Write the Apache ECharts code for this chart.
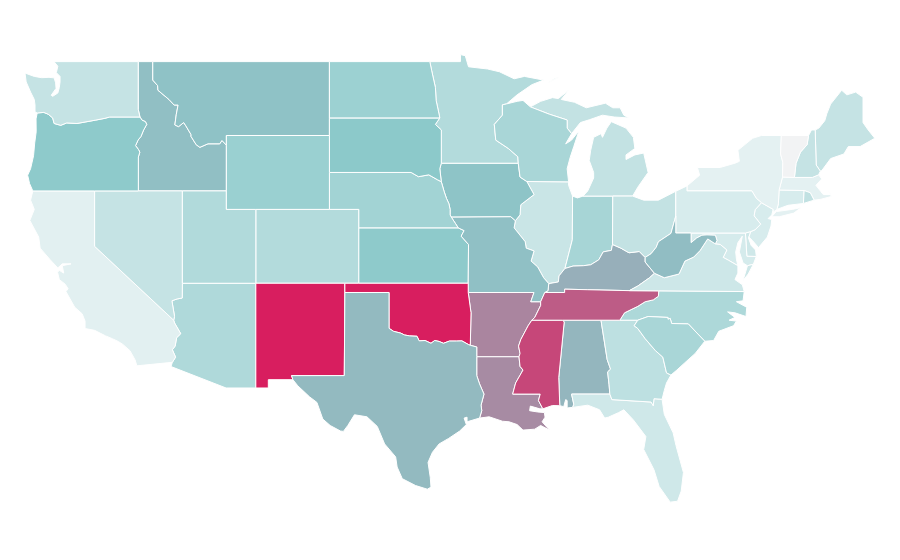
<!DOCTYPE html>
<html>
<head>
<meta charset="utf-8">
<title>US states</title>
<script src="https://cdn.jsdelivr.net/npm/echarts@6/dist/echarts.min.js"></script>
<style>
  html, body { margin: 0; background: #fff; }
  #chart { width: 900px; height: 560px; }
</style>
</head>
<body>
<div id="chart"></div>
<script>
const stateNames = [
  'Alabama', 'Arizona', 'Arkansas', 'California', 'Colorado', 'Connecticut', 'Delaware',
  'Florida', 'Georgia', 'Idaho', 'Illinois', 'Indiana', 'Iowa', 'Kansas', 'Kentucky',
  'Louisiana', 'Maine', 'Maryland', 'Massachusetts', 'Michigan', 'Minnesota', 'Mississippi',
  'Missouri', 'Montana', 'Nebraska', 'Nevada', 'New Hampshire', 'New Jersey', 'New Mexico',
  'New York', 'North Carolina', 'North Dakota', 'Ohio', 'Oklahoma', 'Oregon', 'Pennsylvania',
  'Rhode Island', 'South Carolina', 'South Dakota', 'Tennessee', 'Texas', 'Utah', 'Vermont',
  'Virginia', 'Washington', 'West Virginia', 'Wisconsin', 'Wyoming',
]
const stateValues = [
  55.5, 33, 70, 8, 31, 13, 17,
  17, 26, 53, 20, 37, 51.5, 49, 57.5,
  68, 22, 14, 7, 23, 31, 88,
  52.5, 52, 39, 22, 22, 13, 100,
  7, 34, 42, 23, 100, 49, 13,
  24, 36, 50, 82, 54.5, 32, 0,
  18, 22, 53.5, 36, 43,
]
const scaleColors = ['#f2f8f9', '#8cc9ca', '#d81e5f']
const lowestColor = '#f2f3f4'

// shared borders in lon/lat, so neighbouring states meet exactly
const seg = {
  wa_top: [[-122.76, 49], [-117.04, 49]],
  id_top: [[-117.04, 49], [-116.05, 49]],
  mt_top: [[-116.05, 49], [-104.05, 49]],
  nd_top: [[-104.05, 49], [-97.23, 49]],
  wa_coast: [[-122.76, 49], [-122.5, 48.75], [-122.6, 48.4], [-122.35, 48.2], [-122.35, 47.9], [-122.4, 47.6], [-122.5, 47.3], [-122.85, 47.12], [-122.95, 47.18], [-122.62, 47.55], [-122.65, 47.85], [-122.75, 48.12], [-123.1, 48.15], [-123.6, 48.13], [-124.1, 48.2], [-124.73, 48.38], [-124.65, 47.9], [-124.35, 47.35], [-124.1, 46.95], [-124.05, 46.65], [-124.05, 46.27], [-123.9, 46.22]],
  wa_or: [[-123.9, 46.22], [-123.45, 46.25], [-123.15, 46.15], [-122.85, 45.95], [-122.75, 45.65], [-122.3, 45.55], [-121.9, 45.68], [-121.2, 45.65], [-120.65, 45.73], [-119.95, 45.83], [-119.3, 45.93], [-118.98, 46], [-116.92, 46]],
  wa_id: [[-117.04, 49], [-117.04, 46.42], [-116.92, 46]],
  or_coast: [[-123.9, 46.22], [-123.98, 45.9], [-123.97, 45.2], [-124.07, 44.6], [-124.15, 43.9], [-124.35, 43.2], [-124.55, 42.85], [-124.42, 42.4], [-124.2, 42]],
  or_id: [[-116.92, 46], [-116.78, 45.83], [-116.55, 45.75], [-116.46, 45.6], [-116.67, 45.3], [-116.85, 44.95], [-117.05, 44.75], [-117.22, 44.45], [-117.03, 44.25], [-116.93, 44.1], [-117.03, 43.83], [-117.03, 42]],
  or_ca: [[-124.2, 42], [-120, 42]],
  or_nv: [[-120, 42], [-117.03, 42]],
  id_nv: [[-117.03, 42], [-114.04, 42]],
  id_ut: [[-114.04, 42], [-111.05, 42]],
  id_mt: [[-116.05, 49], [-116.05, 48], [-115.72, 47.7], [-115.7, 47.45], [-114.95, 46.95], [-114.6, 46.65], [-114.33, 46.65], [-114.45, 46.15], [-114.55, 45.57], [-114.3, 45.48], [-113.95, 45.7], [-113.8, 45.52], [-113.45, 45.05], [-113.45, 44.95], [-113.1, 44.5], [-112.85, 44.36], [-112.3, 44.55], [-111.5, 44.55], [-111.35, 44.73], [-111.05, 44.48]],
  id_wy: [[-111.05, 44.48], [-111.05, 42]],
  mt_wy: [[-111.05, 44.48], [-111.05, 45], [-104.05, 45]],
  mt_nd: [[-104.05, 49], [-104.05, 45.94]],
  mt_sd: [[-104.05, 45.94], [-104.05, 45]],
  wy_sd: [[-104.05, 45], [-104.05, 43]],
  wy_ne: [[-104.05, 43], [-104.05, 41]],
  wy_ut: [[-111.05, 42], [-111.05, 41], [-109.05, 41]],
  wy_co: [[-109.05, 41], [-104.05, 41]],
  ne_co: [[-104.05, 41], [-102.05, 41], [-102.05, 40]],
  ne_ks: [[-102.05, 40], [-95.3, 40]],
  co_ks: [[-102.05, 40], [-102.05, 37]],
  co_ok: [[-102.05, 37], [-103, 37]],
  co_nm: [[-103, 37], [-109.05, 37]],
  ks_ok: [[-102.05, 37], [-94.62, 37]],
  ut_co: [[-109.05, 41], [-109.05, 37]],
  ut_az: [[-109.05, 37], [-114.04, 37]],
  ut_nv: [[-114.04, 42], [-114.04, 37]],
  az_nm: [[-109.05, 37], [-109.05, 31.33]],
  nm_ok: [[-103, 37], [-103, 36.5]],
  nm_tx: [[-103, 36.5], [-103.04, 32], [-106.62, 32], [-106.53, 31.78]],
  nm_mex: [[-106.53, 31.78], [-108.2, 31.78], [-108.2, 31.33], [-109.05, 31.33]],
  az_mex: [[-109.05, 31.33], [-111.07, 31.33], [-114.81, 32.49], [-114.72, 32.72]],
  ca_nv: [[-120, 42], [-120, 39], [-114.63, 35]],
  nv_az: [[-114.63, 35], [-114.57, 35.2], [-114.75, 36.05], [-114.4, 36.15], [-114.05, 36.2], [-114.04, 37]],
  ca_az: [[-114.63, 35], [-114.57, 34.85], [-114.15, 34.27], [-114.43, 34.05], [-114.53, 33.6], [-114.72, 33.4], [-114.5, 33], [-114.72, 32.72]],
  ca_mex: [[-114.72, 32.72], [-117.13, 32.53]],
  ca_coast: [[-124.2, 42], [-124.35, 41.5], [-124.1, 41], [-124.4, 40.4], [-123.8, 39.5], [-123.7, 38.9], [-123.05, 38.3], [-122.5, 37.83], [-122.2, 38.05], [-121.6, 38.05], [-122.2, 37.95], [-122.1, 37.55], [-122.4, 37.7], [-122.52, 37.6], [-122.4, 37.2], [-122, 36.95], [-121.8, 36.7], [-121.95, 36.55], [-121.35, 35.7], [-120.85, 35.35], [-120.65, 34.95], [-120.65, 34.55], [-120, 34.45], [-119.25, 34.15], [-118.8, 34], [-118.4, 33.85], [-118.1, 33.7], [-117.6, 33.35], [-117.25, 32.85], [-117.13, 32.53]],
  tx_coast: [[-93.85, 29.7], [-94.7, 29.5], [-94.7, 29.75], [-94.9, 29.7], [-94.75, 29.35], [-95.2, 29], [-95.95, 28.6], [-96.6, 28.3], [-97.05, 27.85], [-97.35, 27.3], [-97.2, 26.5], [-97.15, 25.96], [-97.4, 25.85], [-98.2, 26.05], [-99.1, 26.42], [-99.45, 27.05], [-99.55, 27.6], [-100.3, 28.3], [-100.8, 29.25], [-101.5, 29.77], [-102.35, 29.88], [-102.8, 29.3], [-103.1, 28.98], [-103.3, 29], [-104, 29.3], [-104.5, 29.65], [-104.9, 30.55], [-105.4, 30.85], [-106.2, 31.45], [-106.53, 31.78]],
  ok_tx_pan: [[-100, 34.56], [-100, 36.5], [-103, 36.5]],
  ok_tx_red: [[-100, 34.56], [-99.7, 34.4], [-99.2, 34.3], [-98.95, 34.2], [-98.6, 34.15], [-98.1, 34.13], [-97.95, 33.88], [-97.55, 33.9], [-97.15, 33.75], [-96.9, 33.9], [-96.6, 33.85], [-96.3, 33.75], [-95.9, 33.87], [-95.4, 33.87], [-95.05, 33.88], [-94.6, 33.68], [-94.48, 33.64]],
  ar_ok: [[-94.62, 36.5], [-94.43, 35.4], [-94.48, 33.64]],
  ar_tx: [[-94.48, 33.64], [-94.04, 33.55], [-94.04, 33.02]],
  ar_la: [[-94.04, 33.02], [-91.17, 33.02]],
  la_tx: [[-94.04, 33.02], [-94.04, 32], [-93.85, 31.55], [-93.55, 31], [-93.75, 30.4], [-93.7, 30.1], [-93.85, 29.7]],
  ms_la: [[-91.17, 33.02], [-91.1, 32.5], [-90.9, 32.3], [-91.4, 31.6], [-91.6, 31], [-89.73, 31], [-89.85, 30.65], [-89.55, 30.2]],
  la_coast: [[-89.55, 30.2], [-89.75, 30.2], [-90.4, 30.35], [-90.45, 30.1], [-89.9, 30.03], [-89.45, 30], [-89.4, 29.75], [-89.6, 29.5], [-89.1, 29.05], [-89.7, 29.3], [-90.1, 29.1], [-90.9, 29.05], [-91.3, 29.35], [-91.85, 29.5], [-92.3, 29.53], [-93.2, 29.77], [-93.85, 29.7]],
  ms_coast: [[-89.55, 30.2], [-88.9, 30.38], [-88.4, 30.37]],
  ms_tn: [[-90.3, 35], [-88.2, 35]],
  ms_ar: [[-90.3, 35], [-90.55, 34.7], [-91.05, 33.95], [-91.2, 33.6], [-91.1, 33.2], [-91.17, 33.02]],
  tn_ar: [[-89.7, 36], [-89.7, 35.8], [-90.1, 35.15], [-90.3, 35]],
  mo_ar: [[-89.7, 36], [-90.37, 36], [-90.15, 36.5], [-94.62, 36.5]],
  mo_ok: [[-94.62, 36.5], [-94.62, 37]],
  ks_mo: [[-94.62, 37], [-94.6, 39.1], [-95.1, 39.55], [-94.9, 39.85], [-95.3, 40]],
  ne_mo: [[-95.3, 40], [-95.5, 40.25], [-95.77, 40.58]],
  ia_mo: [[-95.77, 40.58], [-91.73, 40.6], [-91.42, 40.38]],
  ia_ne: [[-96.45, 42.5], [-96.25, 41.95], [-96.1, 41.6], [-95.93, 41.3], [-95.85, 41], [-95.85, 40.7], [-95.77, 40.58]],
  ne_sd: [[-104.05, 43], [-98.5, 43], [-98, 42.77], [-97.3, 42.87], [-96.7, 42.6], [-96.45, 42.5]],
  ia_sd: [[-96.45, 43.5], [-96.55, 43.2], [-96.45, 42.5]],
  nd_sd: [[-104.05, 45.94], [-96.56, 45.94]],
  nd_mn: [[-97.23, 49], [-97.1, 48.5], [-96.85, 47.6], [-96.8, 46.9], [-96.56, 46], [-96.56, 45.94]],
  mn_sd: [[-96.56, 45.94], [-96.85, 45.6], [-96.45, 45.3], [-96.45, 43.5]],
  ia_mn: [[-96.45, 43.5], [-91.22, 43.5]],
  mn_wi: [[-92.02, 46.71], [-92.3, 46.66], [-92.3, 46.1], [-92.85, 45.6], [-92.75, 44.75], [-91.9, 44.3], [-91.25, 43.85], [-91.22, 43.5]],
  mn_lake: [[-92.02, 46.71], [-91.3, 47.2], [-90.3, 47.75], [-89.5, 48]],
  mn_top: [[-89.5, 48], [-90.8, 48.2], [-91.5, 48.07], [-92.5, 48.45], [-93.3, 48.6], [-94.6, 48.72], [-94.82, 49.32], [-95.15, 49.38], [-95.15, 49], [-97.23, 49]],
  ia_wi: [[-91.22, 43.5], [-91.1, 42.75], [-90.64, 42.51]],
  ia_il: [[-90.64, 42.51], [-90.15, 41.8], [-91.05, 41.25], [-91.1, 40.7], [-91.42, 40.38]],
  il_mo: [[-91.42, 40.38], [-91.5, 40], [-90.75, 39.25], [-90.68, 38.9], [-90.15, 38.75], [-90.35, 38.2], [-89.9, 37.88], [-89.5, 37.3], [-89.15, 36.98]],
  ky_mo: [[-89.15, 36.98], [-89.2, 36.6], [-89.42, 36.5]],
  tn_mo: [[-89.42, 36.5], [-89.7, 36]],
  il_ky: [[-88.05, 37.8], [-88.45, 37.4], [-88.5, 37.07], [-89.15, 36.98]],
  il_in: [[-88.05, 37.8], [-87.55, 39.35], [-87.53, 41.72]],
  il_lake: [[-87.53, 41.72], [-87.8, 42.3], [-87.8, 42.49]],
  il_wi: [[-87.8, 42.49], [-90.64, 42.51]],
  in_lake: [[-86.82, 41.72], [-87.2, 41.62], [-87.53, 41.72]],
  in_mi: [[-84.8, 41.72], [-86.82, 41.72]],
  in_oh: [[-84.82, 39.1], [-84.8, 41.72]],
  in_ky: [[-84.82, 39.1], [-84.9, 38.78], [-85.45, 38.7], [-85.75, 38.27], [-86.3, 38], [-86.8, 37.95], [-87.5, 37.93], [-88.05, 37.8]],
  ky_oh: [[-82.6, 38.4], [-83, 38.72], [-83.7, 38.65], [-84.25, 38.9], [-84.82, 39.1]],
  ky_wv: [[-81.97, 37.54], [-82.6, 38.15], [-82.6, 38.4]],
  va_ky: [[-83.68, 36.6], [-83.1, 36.85], [-82.3, 37.3], [-81.97, 37.54]],
  tn_ky: [[-83.68, 36.6], [-86.5, 36.65], [-88.07, 36.68], [-88.07, 36.5], [-89.42, 36.5]],
  va_tn: [[-81.68, 36.59], [-83.68, 36.6]],
  va_nc: [[-75.87, 36.55], [-81.68, 36.59]],
  nc_tn: [[-81.68, 36.59], [-81.7, 36.3], [-82.05, 36.1], [-82.6, 36], [-83.1, 35.75], [-84, 35.4], [-84.32, 35]],
  ga_tn: [[-85.6, 35], [-84.32, 35]],
  al_tn: [[-88.2, 35], [-85.6, 35]],
  ga_nc: [[-84.32, 35], [-83.1, 35]],
  sc_nc: [[-83.1, 35], [-82.4, 35.2], [-81.05, 35.15], [-81.05, 35.05], [-80.9, 35.1], [-80.8, 34.82], [-79.67, 34.8], [-78.55, 33.86]],
  nc_coast: [[-78.55, 33.86], [-77.95, 33.9], [-77.6, 34.4], [-76.6, 34.7], [-76.4, 34.95], [-76.9, 35], [-76.5, 35.15], [-77, 35.45], [-76.5, 35.4], [-75.75, 35.2], [-75.7, 35.7], [-76.4, 36], [-75.95, 36.05], [-75.87, 36.55]],
  sc_coast: [[-78.55, 33.86], [-79.2, 33.2], [-79.9, 32.7], [-80.45, 32.3], [-80.85, 32.03]],
  ga_sc: [[-83.1, 35], [-83.35, 34.7], [-83.1, 34.55], [-82.6, 34], [-81.9, 33.35], [-81.4, 33], [-81.15, 32.15], [-80.85, 32.03]],
  ga_coast: [[-80.85, 32.03], [-81.15, 31.6], [-81.3, 31.2], [-81.45, 30.72]],
  ga_fl: [[-81.45, 30.72], [-82, 30.75], [-82.05, 30.37], [-82.2, 30.57], [-84.86, 30.7], [-85, 31]],
  al_ga: [[-85, 31], [-85.05, 31.5], [-85.15, 32.2], [-84.95, 32.35], [-85.18, 32.87], [-85.6, 35]],
  al_fl: [[-87.52, 30.28], [-87.45, 30.45], [-87.6, 31], [-85, 31]],
  al_coast: [[-88.4, 30.37], [-88.13, 30.32], [-88, 30.7], [-87.9, 30.65], [-87.9, 30.25], [-87.52, 30.28]],
  al_ms: [[-88.2, 35], [-88.1, 34.9], [-88.47, 31.9], [-88.4, 30.37]],
  fl_coast: [[-81.45, 30.72], [-81.3, 29.9], [-80.7, 28.9], [-80.5, 28.2], [-80, 26.75], [-80.15, 25.75], [-80.4, 25.2], [-80.9, 25.15], [-81.65, 26], [-82, 26.9], [-82.7, 28], [-82.55, 28.7], [-83.4, 29.6], [-84.05, 30.15], [-84.4, 30], [-85.1, 29.75], [-85.35, 29.7], [-85.7, 30.15], [-86.5, 30.4], [-87.52, 30.28]],
  wi_lake: [[-87.8, 42.49], [-87.9, 43.2], [-87.7, 43.8], [-87.45, 44.4], [-87.1, 45.25], [-87.6, 44.75], [-88, 44.55], [-87.6, 45.1]],
  wi_mi: [[-87.6, 45.1], [-87.9, 45.4], [-87.9, 45.84], [-89.1, 46.15], [-90.4, 46.55]],
  wi_sup: [[-90.4, 46.55], [-90.9, 46.9], [-91.3, 46.85], [-92.02, 46.71]],
  mi_up: [[-90.4, 46.55], [-89.7, 46.85], [-88.9, 47.05], [-88.5, 47], [-87.8, 47.45], [-88.3, 46.95], [-87.4, 46.8], [-86.6, 46.5], [-85.3, 46.75], [-84.8, 46.5], [-84.3, 46.5], [-84.05, 46.1], [-83.7, 45.95], [-84.7, 46], [-85.5, 46.1], [-86.4, 45.85], [-87, 45.7], [-87.6, 45.1]],
  mi_isle: [[-89.2, 47.85], [-88.45, 48.15], [-88.75, 48.08], [-89.2, 47.85]],
  mi_lp: [[-83.45, 41.72], [-83.1, 42.2], [-82.4, 43], [-82.7, 44.05], [-83.3, 43.95], [-83.9, 43.7], [-83.9, 43.95], [-83.3, 44.3], [-83.4, 44.9], [-83.9, 45.4], [-84.9, 45.75], [-85.2, 45.4], [-85.5, 44.9], [-85.6, 45.1], [-86.1, 44.9], [-86.3, 44.2], [-86.4, 43.65], [-86.1, 43], [-86.1, 42.7], [-86.5, 42], [-86.82, 41.72]],
  oh_mi: [[-84.8, 41.72], [-83.45, 41.72]],
  oh_lake: [[-83.45, 41.72], [-82.7, 41.5], [-81.7, 41.5], [-80.52, 41.98]],
  oh_pa: [[-80.52, 41.98], [-80.52, 40.64]],
  oh_wv: [[-80.52, 40.64], [-80.85, 39.7], [-81.7, 39.25], [-81.85, 38.95], [-82.2, 38.6], [-82.6, 38.4]],
  pa_wv: [[-80.52, 40.64], [-80.52, 39.72]],
  pa_wv_top: [[-80.52, 39.72], [-79.48, 39.72]],
  md_pa: [[-79.48, 39.72], [-75.79, 39.72]],
  pa_de: [[-75.79, 39.72], [-75.42, 39.8]],
  pa_lake: [[-80.52, 41.98], [-79.76, 42.27]],
  pa_ny: [[-79.76, 42.27], [-79.76, 42], [-75.35, 42], [-75.05, 41.6], [-74.7, 41.36]],
  pa_nj: [[-74.7, 41.36], [-75.13, 40.98], [-75.2, 40.65], [-74.75, 40.2], [-75.13, 39.9], [-75.42, 39.8]],
  nj_coast: [[-75.42, 39.8], [-75.55, 39.5], [-75.3, 39.3], [-74.9, 38.93], [-74.3, 39.5], [-74.05, 40.1], [-74, 40.45], [-74.25, 40.5], [-74, 40.7], [-73.9, 41]],
  nj_ny: [[-73.9, 41], [-74.7, 41.36]],
  de_coast: [[-75.42, 39.8], [-75.58, 39.45], [-75.4, 39.05], [-75.1, 38.8], [-75.05, 38.45]],
  md_de: [[-75.79, 39.72], [-75.69, 38.46], [-75.05, 38.45]],
  md_coast: [[-75.05, 38.45], [-75.25, 38.03]],
  va_md_shore: [[-75.25, 38.03], [-75.65, 37.95]],
  va_shore: [[-75.25, 38.03], [-75.6, 37.5], [-75.95, 37.15], [-75.65, 37.95]],
  md_bay: [[-75.65, 37.95], [-75.95, 38.1], [-76.2, 38.7], [-76, 39.55], [-76.3, 39.2], [-76.45, 38.7], [-76.4, 38.3], [-76.3, 37.95]],
  va_md: [[-77.83, 39.13], [-77.5, 39.1], [-77.05, 38.8], [-77.3, 38.4], [-76.95, 38.25], [-76.3, 37.95]],
  va_coast: [[-76.3, 37.95], [-76.3, 37.55], [-76.5, 37.2], [-76, 36.92], [-75.87, 36.55]],
  va_wv: [[-81.97, 37.54], [-81.3, 37.3], [-80.3, 37.5], [-79.9, 38.2], [-79.3, 38.42], [-78.87, 38.77], [-78.35, 39.4], [-77.83, 39.13]],
  md_wv: [[-79.48, 39.72], [-79.48, 39.2], [-79.1, 39.45], [-78.75, 39.6], [-78.4, 39.62], [-77.83, 39.6], [-77.72, 39.32], [-77.83, 39.13]],
  ny_lake: [[-79.76, 42.27], [-78.9, 42.85], [-79.05, 43.27], [-77.5, 43.27], [-76.5, 43.5], [-76.2, 43.6], [-76.3, 44.2], [-75.3, 44.85], [-74.7, 45], [-73.35, 45]],
  ny_vt: [[-73.35, 45], [-73.4, 44], [-73.25, 43.55], [-73.27, 42.75]],
  ma_ny: [[-73.27, 42.75], [-73.5, 42.05]],
  ct_ny: [[-73.5, 42.05], [-73.55, 41.3], [-73.65, 41]],
  ny_nyc: [[-73.65, 41], [-73.9, 40.85], [-73.9, 41]],
  ny_li: [[-74, 40.6], [-73.7, 40.88], [-72.6, 41], [-72, 41.1], [-72.5, 40.8], [-73.5, 40.6], [-74, 40.6]],
  vt_top: [[-73.35, 45], [-71.5, 45]],
  vt_nh: [[-71.5, 45], [-71.6, 44.5], [-72.05, 44.1], [-72.35, 43.5], [-72.46, 42.73]],
  vt_ma: [[-72.46, 42.73], [-73.27, 42.75]],
  nh_ma: [[-70.82, 42.87], [-71.25, 42.73], [-72.46, 42.73]],
  nh_top: [[-71.5, 45], [-71.3, 45.3], [-71.05, 45.3]],
  nh_me: [[-71.05, 45.3], [-70.98, 43.4], [-70.7, 43.07]],
  nh_coast: [[-70.7, 43.07], [-70.82, 42.87]],
  me_coast: [[-71.05, 45.3], [-70.8, 45.4], [-70.4, 45.8], [-70.25, 46.2], [-70, 46.7], [-69.25, 47.45], [-68.9, 47.2], [-68.3, 47.35], [-67.8, 47.07], [-67.8, 45.7], [-67.45, 45.3], [-67, 44.85], [-68, 44.4], [-68.8, 44.4], [-69.1, 44], [-70, 43.75], [-70.6, 43.1], [-70.7, 43.07]],
  ma_coast: [[-70.82, 42.87], [-70.6, 42.65], [-71, 42.3], [-70.65, 41.95], [-70.5, 41.8], [-70, 41.8], [-70.2, 42.07], [-69.95, 41.7], [-70.65, 41.55], [-71.12, 41.5]],
  ma_ri: [[-71.12, 41.5], [-71.38, 41.9], [-71.8, 42.02]],
  ct_ma: [[-71.8, 42.02], [-73.5, 42.05]],
  ct_ri: [[-71.8, 42.02], [-71.85, 41.32]],
  ri_coast: [[-71.85, 41.32], [-71.12, 41.5]],
  ct_coast: [[-71.85, 41.32], [-72.9, 41.22], [-73.65, 41]],
}

// each state lists the borders that go round it, one list per polygon
const stateBorders = {
  'Alabama': [['al_ms', 'al_coast', 'al_fl', 'al_ga', 'al_tn']],
  'Arizona': [['ut_az', 'az_nm', 'az_mex', 'ca_az', 'nv_az']],
  'Arkansas': [['mo_ar', 'ar_ok', 'ar_tx', 'ar_la', 'ms_ar', 'tn_ar']],
  'California': [['or_ca', 'ca_nv', 'ca_az', 'ca_mex', 'ca_coast']],
  'Colorado': [['wy_co', 'ne_co', 'co_ks', 'co_ok', 'co_nm', 'ut_co']],
  'Connecticut': [['ct_ma', 'ct_ri', 'ct_coast', 'ct_ny']],
  'Delaware': [['pa_de', 'de_coast', 'md_de']],
  'Florida': [['al_fl', 'ga_fl', 'fl_coast']],
  'Georgia': [['ga_tn', 'ga_nc', 'ga_sc', 'ga_coast', 'ga_fl', 'al_ga']],
  'Idaho': [['id_top', 'id_mt', 'id_wy', 'id_ut', 'id_nv', 'or_id', 'wa_id']],
  'Illinois': [['il_lake', 'il_wi', 'ia_il', 'il_mo', 'il_ky', 'il_in']],
  'Indiana': [['in_mi', 'in_lake', 'il_in', 'in_ky', 'in_oh']],
  'Iowa': [['ia_mn', 'ia_wi', 'ia_il', 'ia_mo', 'ia_ne', 'ia_sd']],
  'Kansas': [['ne_ks', 'ks_mo', 'ks_ok', 'co_ks']],
  'Kentucky': [['ky_oh', 'in_ky', 'il_ky', 'ky_mo', 'tn_ky', 'va_ky', 'ky_wv']],
  'Louisiana': [['ar_la', 'ms_la', 'la_coast', 'la_tx']],
  'Maine': [['me_coast', 'nh_me']],
  'Maryland': [['md_pa', 'md_de', 'md_coast', 'va_md_shore', 'md_bay', 'va_md', 'md_wv']],
  'Massachusetts': [['vt_ma', 'nh_ma', 'ma_coast', 'ma_ri', 'ct_ma', 'ma_ny']],
  'Michigan': [['in_mi', 'oh_mi', 'mi_lp'], ['wi_mi', 'mi_up'], ['mi_isle']],
  'Minnesota': [['nd_mn', 'mn_sd', 'ia_mn', 'mn_wi', 'mn_lake', 'mn_top']],
  'Mississippi': [['ms_tn', 'ms_ar', 'ms_la', 'ms_coast', 'al_ms']],
  'Missouri': [['ia_mo', 'il_mo', 'ky_mo', 'tn_mo', 'mo_ar', 'mo_ok', 'ks_mo', 'ne_mo']],
  'Montana': [['mt_top', 'mt_nd', 'mt_sd', 'mt_wy', 'id_mt']],
  'Nebraska': [['ne_sd', 'ia_ne', 'ne_mo', 'ne_ks', 'ne_co', 'wy_ne']],
  'Nevada': [['or_nv', 'id_nv', 'ut_nv', 'nv_az', 'ca_nv']],
  'New Hampshire': [['nh_top', 'nh_me', 'nh_coast', 'nh_ma', 'vt_nh']],
  'New Jersey': [['pa_nj', 'nj_coast', 'nj_ny']],
  'New Mexico': [['co_nm', 'nm_ok', 'nm_tx', 'nm_mex', 'az_nm']],
  'New York': [['pa_ny', 'nj_ny', 'ny_nyc', 'ct_ny', 'ma_ny', 'ny_vt', 'ny_lake'], ['ny_li']],
  'North Carolina': [['va_nc', 'nc_tn', 'ga_nc', 'sc_nc', 'nc_coast']],
  'North Dakota': [['nd_top', 'nd_mn', 'nd_sd', 'mt_nd']],
  'Ohio': [['in_oh', 'oh_mi', 'oh_lake', 'oh_pa', 'oh_wv', 'ky_oh']],
  'Oklahoma': [['ks_ok', 'mo_ok', 'ar_ok', 'ok_tx_red', 'ok_tx_pan', 'nm_ok', 'co_ok']],
  'Oregon': [['wa_or', 'or_id', 'or_nv', 'or_ca', 'or_coast']],
  'Pennsylvania': [['oh_pa', 'pa_lake', 'pa_ny', 'pa_nj', 'pa_de', 'md_pa', 'pa_wv_top', 'pa_wv']],
  'Rhode Island': [['ma_ri', 'ct_ri', 'ri_coast']],
  'South Carolina': [['sc_nc', 'sc_coast', 'ga_sc']],
  'South Dakota': [['nd_sd', 'mn_sd', 'ia_sd', 'ne_sd', 'wy_sd', 'mt_sd']],
  'Tennessee': [['tn_ky', 'tn_mo', 'tn_ar', 'ms_tn', 'al_tn', 'ga_tn', 'nc_tn', 'va_tn']],
  'Texas': [['ok_tx_pan', 'ok_tx_red', 'ar_tx', 'la_tx', 'tx_coast', 'nm_tx']],
  'Utah': [['id_ut', 'wy_ut', 'ut_co', 'ut_az', 'ut_nv']],
  'Vermont': [['vt_top', 'vt_nh', 'vt_ma', 'ny_vt']],
  'Virginia': [['va_nc', 'va_tn', 'va_ky', 'va_wv', 'va_md', 'va_coast'], ['va_md_shore', 'va_shore']],
  'Washington': [['wa_top', 'wa_id', 'wa_or', 'wa_coast']],
  'West Virginia': [['oh_wv', 'ky_wv', 'va_wv', 'md_wv', 'pa_wv_top', 'pa_wv']],
  'Wisconsin': [['il_wi', 'wi_lake', 'wi_mi', 'wi_sup', 'mn_wi', 'ia_wi']],
  'Wyoming': [['mt_wy', 'wy_sd', 'wy_ne', 'wy_co', 'wy_ut', 'id_wy']],
}

const same = (a, b) => a[0] === b[0] && a[1] === b[1]

// chain the named borders into one closed ring, flipping them where needed
function buildRing(names) {
  const parts = names.map((n) => seg[n])
  let ring = parts[0].slice()
  if (parts.length > 1) {
    const next = parts[1]
    if (!same(ring[ring.length - 1], next[0]) && !same(ring[ring.length - 1], next[next.length - 1])) {
      ring.reverse()
    }
  }
  parts.slice(1).forEach((part, i) => {
    const end = ring[ring.length - 1]
    if (same(end, part[0])) {
      ring = ring.concat(part.slice(1))
    } else if (same(end, part[part.length - 1])) {
      ring = ring.concat(part.slice().reverse().slice(1))
    } else {
      throw new Error('broken ring at ' + names[i + 1])
    }
  })
  if (!same(ring[0], ring[ring.length - 1])) {
    throw new Error('open ring ' + names.join(','))
  }
  return ring
}

const usa = {
  type: 'FeatureCollection',
  features: stateNames.map((name) => ({
    type: 'Feature',
    properties: { name },
    geometry: {
      type: 'MultiPolygon',
      coordinates: stateBorders[name].map((names) => [buildRing(names)]),
    },
  })),
}

echarts.registerMap('USA', { geoJSON: usa })

const myChart = echarts.init(document.getElementById('chart'))
myChart.setOption({
  backgroundColor: '#fff',
  animation: false,
  visualMap: {
    show: false,
    min: 0,
    max: 100,
    // range starts just above min so Vermont's 0 really falls out of range
    range: [0.5, 100],
    inRange: { color: scaleColors },
    outOfRange: { color: lowestColor },
  },
  series: [
    {
      type: 'map',
      map: 'USA',
      aspectScale: 0.797,
      boundingCoords: [[-124.73, 49.38], [-67, 25]],
      left: 25,
      top: 54.6,
      width: 849.8,
      height: 450.3,
      label: { show: false },
      itemStyle: { borderColor: '#fff', borderWidth: 1 },
      data: stateNames.map((name, i) => ({ name, value: stateValues[i] })),
    },
  ],
})
</script>
</body>
</html>
